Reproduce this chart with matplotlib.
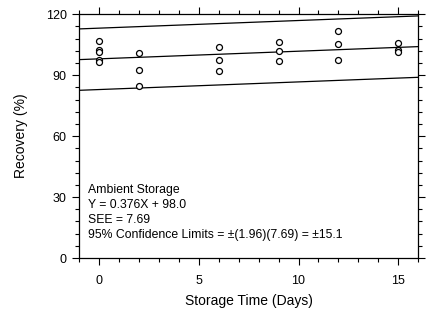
import numpy as np
import matplotlib
matplotlib.use("Agg")
import matplotlib.pyplot as plt
from matplotlib.ticker import MultipleLocator

plt.rcParams["font.family"] = ["Liberation Sans", "DejaVu Sans"]

# storage time (days) and recovery (%)
days = [0, 0, 0, 0, 0, 2, 2, 2, 6, 6, 6, 9, 9, 9, 12, 12, 12, 15, 15, 15]
recovery = [106.7, 102.3, 101.3, 97.4, 96.4,
            100.8, 92.5, 84.6,
            103.8, 97.4, 92.0,
            106.2, 101.8, 96.9,
            111.7, 105.3, 97.4,
            105.7, 102.3, 101.5]

slope = 0.376
intercept = 98.0
limit = 15.1

fig = plt.figure(figsize=(4.37, 3.21), dpi=100)
ax = fig.add_axes([0.181, 0.196, 0.776, 0.760])

xs = np.array([-1, 16])
fit = slope * xs + intercept
ax.plot(xs, fit, color="black", linewidth=0.9)
ax.plot(xs, fit + limit, color="black", linewidth=0.9)
ax.plot(xs, fit - limit, color="black", linewidth=0.9)

ax.plot(days, recovery, linestyle="none", marker="o", markersize=4.3,
        markerfacecolor="white", markeredgecolor="black", markeredgewidth=0.9)

ax.set_xlim(-1, 16)
ax.set_ylim(0, 120)
ax.xaxis.set_major_locator(MultipleLocator(5))
ax.xaxis.set_minor_locator(MultipleLocator(1))
ax.yaxis.set_major_locator(MultipleLocator(30))
ax.yaxis.set_minor_locator(MultipleLocator(6))
ax.tick_params(which="both", direction="out", top=True, right=True,
               labelsize=9, width=0.8)
ax.tick_params(which="major", length=5)
ax.tick_params(which="minor", length=3)
ax.tick_params(axis="x", pad=7)
ax.tick_params(axis="y", pad=4)
for s in ax.spines.values():
    s.set_linewidth(0.9)

ax.set_xlabel("Storage Time (Days)", fontsize=10, labelpad=5)
ax.set_ylabel("Recovery (%)", fontsize=10, labelpad=13)

txt = ("Ambient Storage\n"
       f"Y = {slope:.3f}X + {intercept:.1f}\n"
       "SEE = 7.69\n"
       f"95% Confidence Limits = \u00b1(1.96)(7.69) = \u00b1{limit:.1f}")
ax.text(-0.55, 36.2, txt, fontsize=8.8, va="top", ha="left", linespacing=1.3)

fig.savefig("out.png", dpi=100)
